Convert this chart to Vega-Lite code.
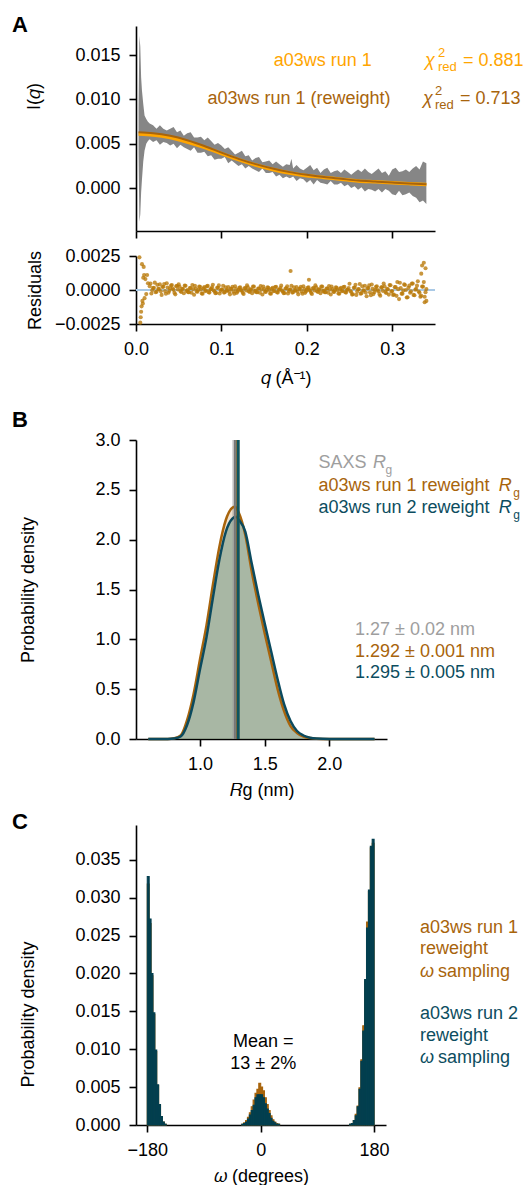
{
"$schema": "https://vega.github.io/schema/vega-lite/v6.json",
"padding": {"left": 12, "top": 14, "right": 0, "bottom": 0},
"config": {
 "font": "Liberation Sans",
 "view": {"stroke": null},
 "axis": {"labelFontSize": 18, "titleFontSize": 18, "titleFontWeight": "normal", "labelColor": "#000", "titleColor": "#000", "domainColor": "#000", "tickColor": "#000", "domainWidth": 1.6, "tickWidth": 1.6, "tickSize": 7, "labelPadding": 9, "titlePadding": 8, "grid": false, "labelFont": "Liberation Sans", "titleFont": "Liberation Sans", "labelOverlap": false, "labelFlush": false},
 "title": {"fontSize": 22, "fontWeight": "bold", "anchor": "start", "frame": "group", "color": "#000", "font": "Liberation Sans", "offset": 0},
 "text": {"fontSize": 18, "font": "Liberation Sans"}
},
"datasets": {
 "saxs": [
  {"x":0.0030,"y":0.0040,"hi":0.0090},{"x":0.0040,"y":-0.0038,"hi":0.0172},{"x":0.0050,"y":-0.0030,"hi":0.0160},{"x":0.0060,"y":-0.0005,"hi":0.0125},{"x":0.0070,"y":0.0010,"hi":0.0110},{"x":0.0085,"y":0.0030,"hi":0.0095},{"x":0.0100,"y":0.0042,"hi":0.0082},{"x":0.0120,"y":0.0050,"hi":0.0078},{"x":0.0140,"y":0.0053,"hi":0.0075},{"x":0.0160,"y":0.0055,"hi":0.0073},
  {"x":0.020,"y":0.0052,"hi":0.0071},{"x":0.024,"y":0.0054,"hi":0.0067},{"x":0.028,"y":0.0049,"hi":0.0071},{"x":0.032,"y":0.0052,"hi":0.0067},{"x":0.036,"y":0.0051,"hi":0.0065},{"x":0.040,"y":0.0048,"hi":0.0067},{"x":0.044,"y":0.0050,"hi":0.0069},{"x":0.048,"y":0.0045,"hi":0.0063},{"x":0.052,"y":0.0049,"hi":0.0065},{"x":0.056,"y":0.0046,"hi":0.0059},
  {"x":0.060,"y":0.0044,"hi":0.0062},{"x":0.064,"y":0.0042,"hi":0.0063},{"x":0.068,"y":0.0046,"hi":0.0057},{"x":0.072,"y":0.0040,"hi":0.0057},{"x":0.076,"y":0.0040,"hi":0.0058},{"x":0.080,"y":0.0041,"hi":0.0054},{"x":0.084,"y":0.0036,"hi":0.0057},{"x":0.088,"y":0.0037,"hi":0.0053},{"x":0.092,"y":0.0032,"hi":0.0049},{"x":0.096,"y":0.0033,"hi":0.0051},
  {"x":0.100,"y":0.0033,"hi":0.0048},{"x":0.104,"y":0.0035,"hi":0.0044},{"x":0.108,"y":0.0028,"hi":0.0046},{"x":0.112,"y":0.0031,"hi":0.0042},{"x":0.116,"y":0.0028,"hi":0.0038},{"x":0.120,"y":0.0025,"hi":0.0040},{"x":0.124,"y":0.0027,"hi":0.0042},{"x":0.128,"y":0.0022,"hi":0.0036},{"x":0.132,"y":0.0025,"hi":0.0037},{"x":0.136,"y":0.0022,"hi":0.0031},
  {"x":0.140,"y":0.0020,"hi":0.0034},{"x":0.144,"y":0.0018,"hi":0.0035},{"x":0.148,"y":0.0022,"hi":0.0029},{"x":0.152,"y":0.0017,"hi":0.0030},{"x":0.156,"y":0.0017,"hi":0.0031},{"x":0.160,"y":0.0018,"hi":0.0027},{"x":0.164,"y":0.0013,"hi":0.0030},{"x":0.168,"y":0.0015,"hi":0.0027},{"x":0.172,"y":0.0011,"hi":0.0024},{"x":0.176,"y":0.0013,"hi":0.0027},
  {"x":0.180,"y":0.0011,"hi":0.0026},{"x":0.182,"y":0.0012,"hi":0.0033},{"x":0.184,"y":0.0013,"hi":0.0022},{"x":0.188,"y":0.0008,"hi":0.0026},{"x":0.192,"y":0.0011,"hi":0.0022},{"x":0.196,"y":0.0010,"hi":0.0020},{"x":0.200,"y":0.0006,"hi":0.0023},{"x":0.204,"y":0.0009,"hi":0.0026},{"x":0.208,"y":0.0004,"hi":0.0020},{"x":0.212,"y":0.0009,"hi":0.0023},
  {"x":0.216,"y":0.0006,"hi":0.0017},{"x":0.220,"y":0.0005,"hi":0.0021},{"x":0.224,"y":0.0004,"hi":0.0023},{"x":0.228,"y":0.0008,"hi":0.0017},{"x":0.232,"y":0.0004,"hi":0.0019},{"x":0.236,"y":0.0004,"hi":0.0020},{"x":0.240,"y":0.0006,"hi":0.0017},{"x":0.244,"y":0.0002,"hi":0.0021},{"x":0.248,"y":0.0004,"hi":0.0018},{"x":0.252,"y":0.0000,"hi":0.0015},
  {"x":0.256,"y":0.0002,"hi":0.0018},{"x":0.260,"y":-0.0002,"hi":0.0021},{"x":0.264,"y":0.0001,"hi":0.0018},{"x":0.268,"y":-0.0004,"hi":0.0022},{"x":0.272,"y":-0.0001,"hi":0.0018},{"x":0.276,"y":-0.0002,"hi":0.0016},{"x":0.280,"y":-0.0004,"hi":0.0019},{"x":0.284,"y":-0.0001,"hi":0.0022},{"x":0.288,"y":-0.0005,"hi":0.0017},{"x":0.292,"y":-0.0001,"hi":0.0019},
  {"x":0.296,"y":-0.0003,"hi":0.0014},{"x":0.300,"y":-0.0007,"hi":0.0021},{"x":0.304,"y":-0.0008,"hi":0.0023},{"x":0.308,"y":-0.0003,"hi":0.0018},{"x":0.312,"y":-0.0008,"hi":0.0019},{"x":0.316,"y":-0.0007,"hi":0.0021},{"x":0.320,"y":-0.0005,"hi":0.0018},{"x":0.324,"y":-0.0009,"hi":0.0022},{"x":0.328,"y":-0.0011,"hi":0.0025},{"x":0.332,"y":-0.0016,"hi":0.0021},
  {"x":0.336,"y":-0.0014,"hi":0.0030},{"x":0.340,"y":-0.0018,"hi":0.0028}
 ],
 "fit": [
  {"x":0.003,"y":0.0061,"s":"run1"},{"x":0.02,"y":0.0060,"s":"run1"},{"x":0.04,"y":0.0057,"s":"run1"},{"x":0.06,"y":0.0052,"s":"run1"},{"x":0.08,"y":0.0046,"s":"run1"},{"x":0.10,"y":0.0039,"s":"run1"},{"x":0.12,"y":0.0032,"s":"run1"},{"x":0.14,"y":0.0026,"s":"run1"},{"x":0.16,"y":0.0021,"s":"run1"},{"x":0.18,"y":0.0017,"s":"run1"},{"x":0.20,"y":0.0014,"s":"run1"},{"x":0.22,"y":0.0012,"s":"run1"},{"x":0.24,"y":0.0010,"s":"run1"},{"x":0.26,"y":0.0008,"s":"run1"},{"x":0.28,"y":0.0007,"s":"run1"},{"x":0.30,"y":0.0006,"s":"run1"},{"x":0.32,"y":0.0005,"s":"run1"},{"x":0.34,"y":0.0004,"s":"run1"},
  {"x":0.003,"y":0.0063,"s":"run1rw"},{"x":0.02,"y":0.0062,"s":"run1rw"},{"x":0.04,"y":0.0059,"s":"run1rw"},{"x":0.06,"y":0.0054,"s":"run1rw"},{"x":0.08,"y":0.00475,"s":"run1rw"},{"x":0.10,"y":0.0040,"s":"run1rw"},{"x":0.12,"y":0.0033,"s":"run1rw"},{"x":0.14,"y":0.0027,"s":"run1rw"},{"x":0.16,"y":0.0022,"s":"run1rw"},{"x":0.18,"y":0.0018,"s":"run1rw"},{"x":0.20,"y":0.0015,"s":"run1rw"},{"x":0.22,"y":0.00125,"s":"run1rw"},{"x":0.24,"y":0.00105,"s":"run1rw"},{"x":0.26,"y":0.00085,"s":"run1rw"},{"x":0.28,"y":0.00073,"s":"run1rw"},{"x":0.30,"y":0.00062,"s":"run1rw"},{"x":0.32,"y":0.00052,"s":"run1rw"},{"x":0.34,"y":0.00043,"s":"run1rw"}
 ],
 "resid": [
  {"x":0.004,"y":0.0024},{"x":0.005,"y":-0.0024},{"x":0.0055,"y":-0.0020},{"x":0.006,"y":-0.0016},{"x":0.0065,"y":-0.0012},{"x":0.007,"y":0.0019},{"x":0.0075,"y":-0.0008},{"x":0.008,"y":-0.0010},{"x":0.0085,"y":0.0009},{"x":0.009,"y":0.0017},{"x":0.0095,"y":0.0011},{"x":0.010,"y":-0.0006},{"x":0.011,"y":0.0008},{"x":0.012,"y":-0.0003},{"x":0.013,"y":0.0011},{"x":0.014,"y":0.0005},
  {"x":0.016,"y":0.00028},{"x":0.018,"y":-0.00026},{"x":0.020,"y":0.00015},{"x":0.022,"y":0.00054},{"x":0.024,"y":-0.00013},{"x":0.026,"y":0.00008},{"x":0.028,"y":0.00041},{"x":0.030,"y":-0.00036},{"x":0.032,"y":0.00024},{"x":0.034,"y":-0.00007},{"x":0.036,"y":0.0005},{"x":0.038,"y":-0.0002},{"x":0.040,"y":0.00012},{"x":0.042,"y":0.00037},{"x":0.044,"y":0.00001},{"x":0.046,"y":-0.00032},{"x":0.048,"y":0.00031},
  {"x":0.050,"y":0.00041},{"x":0.052,"y":-0.00008},{"x":0.054,"y":0.00009},{"x":0.056,"y":-0.00024},{"x":0.058,"y":0.00031},{"x":0.060,"y":-0.00001},{"x":0.062,"y":-0.00016},{"x":0.064,"y":0.00015},{"x":0.066,"y":0.00037},{"x":0.068,"y":-0.00035},{"x":0.070,"y":0.00011},{"x":0.072,"y":-0.00013},{"x":0.074,"y":0.00026},{"x":0.076,"y":0.00003},{"x":0.078,"y":-0.00027},{"x":0.080,"y":0.00021},{"x":0.082,"y":-0.00003},{"x":0.084,"y":0.0003},{"x":0.086,"y":-0.00019},{"x":0.088,"y":0.00008},{"x":0.090,"y":0.00039},{"x":0.092,"y":-0.00009},{"x":0.094,"y":-0.00022},{"x":0.096,"y":0.00017},{"x":0.098,"y":-0.00026},
  {"x":0.100,"y":0.00004},{"x":0.102,"y":0.00031},{"x":0.104,"y":-0.00016},{"x":0.106,"y":-0.00002},{"x":0.108,"y":0.00022},{"x":0.110,"y":-0.00032},{"x":0.112,"y":0.00009},{"x":0.114,"y":-0.00012},{"x":0.116,"y":0.00028},{"x":0.118,"y":-0.00021},{"x":0.120,"y":0.00001},{"x":0.122,"y":0.00019},{"x":0.124,"y":-0.00006},{"x":0.126,"y":-0.00029},{"x":0.128,"y":0.00014},{"x":0.130,"y":0.00034},{"x":0.132,"y":-0.00009},{"x":0.134,"y":0.00005},{"x":0.136,"y":-0.00023},{"x":0.138,"y":0.00025},
  {"x":0.140,"y":-0.00004},{"x":0.142,"y":-0.00017},{"x":0.144,"y":0.00011},{"x":0.146,"y":0.00029},{"x":0.148,"y":-0.00033},{"x":0.150,"y":0.00007},{"x":0.152,"y":-0.00014},{"x":0.154,"y":0.0002},{"x":0.156,"y":0},{"x":0.158,"y":-0.00027},{"x":0.160,"y":0.00016},{"x":0.162,"y":-0.00005},{"x":0.164,"y":0.00023},{"x":0.166,"y":-0.00019},{"x":0.168,"y":0.00004},{"x":0.170,"y":0.00032},{"x":0.172,"y":-0.00011},{"x":0.174,"y":-0.00022},{"x":0.176,"y":0.00012},{"x":0.178,"y":-0.00025},
  {"x":0.180,"y":0.00004},{"x":0.181,"y":0.0014},{"x":0.182,"y":0.00031},{"x":0.184,"y":-0.00016},{"x":0.186,"y":-0.00002},{"x":0.188,"y":0.00022},{"x":0.190,"y":-0.00032},{"x":0.192,"y":0.00009},{"x":0.194,"y":-0.00012},{"x":0.196,"y":0.00028},{"x":0.198,"y":-0.00021},{"x":0.200,"y":0.00001},{"x":0.202,"y":0.00019},{"x":0.2025,"y":0.00075},{"x":0.204,"y":-0.00006},{"x":0.206,"y":-0.00029},{"x":0.208,"y":0.00014},{"x":0.210,"y":0.00034},{"x":0.212,"y":-0.00009},{"x":0.214,"y":0.00005},{"x":0.216,"y":-0.00023},{"x":0.218,"y":0.00025},
  {"x":0.220,"y":-0.00004},{"x":0.222,"y":-0.00017},{"x":0.224,"y":0.00011},{"x":0.226,"y":0.00029},{"x":0.228,"y":-0.00033},{"x":0.230,"y":0.00007},{"x":0.232,"y":-0.00014},{"x":0.234,"y":0.0002},{"x":0.236,"y":0},{"x":0.238,"y":-0.00027},{"x":0.240,"y":0.00016},{"x":0.242,"y":-0.00005},{"x":0.244,"y":0.00023},{"x":0.246,"y":-0.00019},{"x":0.248,"y":0.00004},
  {"x":0.250,"y":0.00046},{"x":0.252,"y":-0.00015},{"x":0.254,"y":-0.00031},{"x":0.256,"y":0.00018},{"x":0.258,"y":-0.00036},{"x":0.260,"y":0.00005},{"x":0.262,"y":0.00044},{"x":0.264,"y":-0.00023},{"x":0.266,"y":-0.00003},{"x":0.268,"y":0.00031},{"x":0.270,"y":-0.00046},{"x":0.272,"y":0.00014},{"x":0.274,"y":-0.00017},{"x":0.276,"y":0.0004},{"x":0.278,"y":-0.0003},{"x":0.280,"y":0.00002},{"x":0.282,"y":0.00027},{"x":0.284,"y":-0.00009},{"x":0.286,"y":-0.00042},{"x":0.288,"y":0.00021},{"x":0.290,"y":0.00048},{"x":0.292,"y":-0.00014},{"x":0.294,"y":0.00008},{"x":0.296,"y":-0.00034},{"x":0.298,"y":0.00035},
  {"x":0.300,"y":-0.00007},{"x":0.302,"y":-0.00034},{"x":0.304,"y":0.00021},{"x":0.306,"y":0.00059},{"x":0.308,"y":-0.00067},{"x":0.310,"y":0.00015},{"x":0.312,"y":-0.00027},{"x":0.314,"y":0.00041},{"x":0.316,"y":0},{"x":0.318,"y":-0.00053},{"x":0.320,"y":0.00032},{"x":0.322,"y":-0.0001},{"x":0.324,"y":0.00047},{"x":0.326,"y":-0.00039},{"x":0.328,"y":0.00008},{"x":0.330,"y":0.00064},{"x":0.332,"y":-0.00021},{"x":0.334,"y":-0.00043},{"x":0.336,"y":0.00025},{"x":0.338,"y":-0.0005},{"x":0.340,"y":0.00007},
  {"x":0.334,"y":0.0012},{"x":0.335,"y":0.0018},{"x":0.337,"y":0.0020},{"x":0.339,"y":0.0016},{"x":0.338,"y":-0.0009},{"x":0.340,"y":-0.0008},
  {"x":0.017,"y":0.00048},{"x":0.019,"y":-0.00001},{"x":0.021,"y":0.00016},{"x":0.023,"y":-0.00017},{"x":0.025,"y":0.00038},{"x":0.027,"y":0.00006},{"x":0.029,"y":-0.00009},{"x":0.031,"y":0.00022},{"x":0.033,"y":0.00044},{"x":0.035,"y":-0.00028},{"x":0.037,"y":0.00018},{"x":0.039,"y":-0.00006},{"x":0.041,"y":0.00033},{"x":0.043,"y":0.0001},{"x":0.045,"y":-0.0002},{"x":0.047,"y":0.00028},{"x":0.049,"y":0.00004},
  {"x":0.051,"y":0.00024},{"x":0.053,"y":-0.00015},{"x":0.055,"y":0.00007},{"x":0.057,"y":0.00032},{"x":0.059,"y":-0.00007},{"x":0.061,"y":-0.00017},{"x":0.063,"y":0.00014},{"x":0.065,"y":-0.0002},{"x":0.067,"y":0.00006},{"x":0.069,"y":0.00031},{"x":0.071,"y":-0.00011},{"x":0.073,"y":0.00001},{"x":0.075,"y":0.00023},{"x":0.077,"y":-0.00026},{"x":0.079,"y":0.00012},{"x":0.081,"y":-0.00008},{"x":0.083,"y":0.00028},{"x":0.085,"y":-0.00016},{"x":0.087,"y":0.00004},{"x":0.089,"y":0.0002},{"x":0.091,"y":-0.00003},{"x":0.093,"y":-0.00024},{"x":0.095,"y":0.00016},{"x":0.097,"y":0.00034},{"x":0.099,"y":-0.00006},
  {"x":0.101,"y":0.00004},{"x":0.103,"y":-0.00019},{"x":0.105,"y":0.0002},{"x":0.107,"y":-0.00003},{"x":0.109,"y":-0.00013},{"x":0.111,"y":0.00008},{"x":0.113,"y":0.00024},{"x":0.115,"y":-0.00027},{"x":0.117,"y":0.00006},{"x":0.119,"y":-0.00011},{"x":0.121,"y":0.00016},{"x":0.123,"y":0},{"x":0.125,"y":-0.00021},{"x":0.127,"y":0.00013},{"x":0.129,"y":-0.00004},{"x":0.131,"y":0.00019},{"x":0.133,"y":-0.00015},{"x":0.135,"y":0.00003},{"x":0.137,"y":0.00025},{"x":0.139,"y":-0.00008},
  {"x":0.141,"y":-0.00017},{"x":0.143,"y":0.0001},{"x":0.145,"y":-0.0002},{"x":0.147,"y":0.00003},{"x":0.149,"y":0.00025},{"x":0.151,"y":-0.00013},{"x":0.153,"y":-0.00001},{"x":0.155,"y":0.00017},{"x":0.157,"y":-0.00025},{"x":0.159,"y":0.00008},{"x":0.161,"y":-0.00009},{"x":0.163,"y":0.00022},{"x":0.165,"y":-0.00017},{"x":0.167,"y":0.00001},{"x":0.169,"y":0.00015},{"x":0.171,"y":-0.00005},{"x":0.173,"y":-0.00024},{"x":0.175,"y":0.00011},{"x":0.177,"y":0.00027},{"x":0.179,"y":-0.00008},
  {"x":0.181,"y":0.00004},{"x":0.183,"y":-0.00019},{"x":0.185,"y":0.0002},{"x":0.187,"y":-0.00003},{"x":0.189,"y":-0.00013},{"x":0.191,"y":0.00008},{"x":0.193,"y":0.00024},{"x":0.195,"y":-0.00027},{"x":0.197,"y":0.00006},{"x":0.199,"y":-0.00011},{"x":0.201,"y":0.00016},{"x":0.203,"y":0},{"x":0.205,"y":-0.00021},{"x":0.207,"y":0.00013},{"x":0.209,"y":-0.00004},{"x":0.211,"y":0.00019},{"x":0.213,"y":-0.00015},{"x":0.215,"y":0.00003},{"x":0.217,"y":0.00025},{"x":0.219,"y":-0.00008},
  {"x":0.221,"y":-0.00017},{"x":0.223,"y":0.0001},{"x":0.225,"y":-0.0002},{"x":0.227,"y":0.00003},{"x":0.229,"y":0.00025},{"x":0.231,"y":-0.00013},{"x":0.233,"y":-0.00001},{"x":0.235,"y":0.00017},{"x":0.237,"y":-0.00025},{"x":0.239,"y":0.00008},{"x":0.241,"y":-0.00009},{"x":0.243,"y":0.00022},{"x":0.245,"y":-0.00017},{"x":0.247,"y":0.00001},{"x":0.249,"y":0.00015},
  {"x":0.251,"y":-0.00007},{"x":0.253,"y":-0.00034},{"x":0.255,"y":0.00016},{"x":0.257,"y":0.00038},{"x":0.259,"y":-0.00011},{"x":0.261,"y":0.00006},{"x":0.263,"y":-0.00027},{"x":0.265,"y":0.00028},{"x":0.267,"y":-0.00004},{"x":0.269,"y":-0.00019},{"x":0.271,"y":0.00012},{"x":0.273,"y":0.00034},{"x":0.275,"y":-0.00038},{"x":0.277,"y":0.00008},{"x":0.279,"y":-0.00016},{"x":0.281,"y":0.00023},{"x":0.283,"y":0},{"x":0.285,"y":-0.0003},{"x":0.287,"y":0.00018},{"x":0.289,"y":-0.00006},{"x":0.291,"y":0.00027},{"x":0.293,"y":-0.00022},{"x":0.295,"y":0.00005},{"x":0.297,"y":0.00036},{"x":0.299,"y":-0.00012},
  {"x":0.301,"y":-0.00037},{"x":0.303,"y":0.00021},{"x":0.305,"y":-0.00043},{"x":0.307,"y":0.00006},{"x":0.309,"y":0.00053},{"x":0.311,"y":-0.00027},{"x":0.313,"y":-0.00003},{"x":0.315,"y":0.00037},{"x":0.317,"y":-0.00055},{"x":0.319,"y":0.00016},{"x":0.321,"y":-0.0002},{"x":0.323,"y":0.00047},{"x":0.325,"y":-0.00036},{"x":0.327,"y":0.00002},{"x":0.329,"y":0.00032},{"x":0.331,"y":-0.00011},{"x":0.333,"y":-0.0005},{"x":0.335,"y":0.00025},{"x":0.337,"y":0.00058},{"x":0.339,"y":-0.00016}
 ],
 "kde": [
  {"x":0.60,"y":0,"s":"run1rw"},{"x":0.75,"y":0.001,"s":"run1rw"},{"x":0.80,"y":0.008,"s":"run1rw"},{"x":0.85,"y":0.035,"s":"run1rw"},{"x":0.90,"y":0.19,"s":"run1rw"},{"x":0.95,"y":0.45,"s":"run1rw"},{"x":1.00,"y":0.80,"s":"run1rw"},{"x":1.05,"y":1.14,"s":"run1rw"},{"x":1.10,"y":1.55,"s":"run1rw"},{"x":1.15,"y":1.93,"s":"run1rw"},{"x":1.20,"y":2.20,"s":"run1rw"},{"x":1.25,"y":2.32,"s":"run1rw"},{"x":1.27,"y":2.33,"s":"run1rw"},{"x":1.30,"y":2.27,"s":"run1rw"},{"x":1.35,"y":2.05,"s":"run1rw"},{"x":1.40,"y":1.68,"s":"run1rw"},{"x":1.45,"y":1.36,"s":"run1rw"},{"x":1.50,"y":1.06,"s":"run1rw"},{"x":1.55,"y":0.78,"s":"run1rw"},{"x":1.60,"y":0.50,"s":"run1rw"},{"x":1.65,"y":0.28,"s":"run1rw"},{"x":1.70,"y":0.13,"s":"run1rw"},{"x":1.75,"y":0.06,"s":"run1rw"},{"x":1.80,"y":0.025,"s":"run1rw"},{"x":1.85,"y":0.009,"s":"run1rw"},{"x":1.90,"y":0.003,"s":"run1rw"},{"x":2.00,"y":0,"s":"run1rw"},{"x":2.35,"y":0,"s":"run1rw"},
  {"x":0.60,"y":0,"s":"run2rw"},{"x":0.75,"y":0.001,"s":"run2rw"},{"x":0.80,"y":0.006,"s":"run2rw"},{"x":0.85,"y":0.025,"s":"run2rw"},{"x":0.90,"y":0.14,"s":"run2rw"},{"x":0.95,"y":0.37,"s":"run2rw"},{"x":1.00,"y":0.70,"s":"run2rw"},{"x":1.05,"y":1.02,"s":"run2rw"},{"x":1.10,"y":1.42,"s":"run2rw"},{"x":1.15,"y":1.80,"s":"run2rw"},{"x":1.20,"y":2.08,"s":"run2rw"},{"x":1.25,"y":2.21,"s":"run2rw"},{"x":1.28,"y":2.23,"s":"run2rw"},{"x":1.30,"y":2.20,"s":"run2rw"},{"x":1.35,"y":2.08,"s":"run2rw"},{"x":1.40,"y":1.76,"s":"run2rw"},{"x":1.45,"y":1.45,"s":"run2rw"},{"x":1.50,"y":1.16,"s":"run2rw"},{"x":1.55,"y":0.88,"s":"run2rw"},{"x":1.60,"y":0.60,"s":"run2rw"},{"x":1.65,"y":0.35,"s":"run2rw"},{"x":1.70,"y":0.18,"s":"run2rw"},{"x":1.75,"y":0.08,"s":"run2rw"},{"x":1.80,"y":0.035,"s":"run2rw"},{"x":1.85,"y":0.013,"s":"run2rw"},{"x":1.90,"y":0.004,"s":"run2rw"},{"x":2.00,"y":0,"s":"run2rw"},{"x":2.35,"y":0,"s":"run2rw"}
 ],
 "rg": [
  {"x":1.27,"y":0,"y2":3,"s":"saxs"},{"x":1.292,"y":0,"y2":3,"s":"run1rw"},{"x":1.295,"y":0,"y2":3,"s":"run2rw"}
 ],
 "rgband": [{"x":1.25,"x2":1.29,"y":0,"y2":3}],
 "hist": [
  {"x":-180,"x2":-177,"y":0.0318,"s":"run1rw"},{"x":-177,"x2":-174,"y":0.0266,"s":"run1rw"},{"x":-174,"x2":-171,"y":0.0197,"s":"run1rw"},{"x":-171,"x2":-168,"y":0.0146,"s":"run1rw"},{"x":-168,"x2":-165,"y":0.0097,"s":"run1rw"},{"x":-165,"x2":-162,"y":0.0052,"s":"run1rw"},{"x":-162,"x2":-159,"y":0.0026,"s":"run1rw"},{"x":-159,"x2":-156,"y":0.0011,"s":"run1rw"},{"x":-156,"x2":-153,"y":0.0004,"s":"run1rw"},{"x":-153,"x2":-150,"y":0.0001,"s":"run1rw"},
  {"x":-30,"x2":-27,"y":0.0001,"s":"run1rw"},{"x":-27,"x2":-24,"y":0.0003,"s":"run1rw"},{"x":-24,"x2":-21,"y":0.0006,"s":"run1rw"},{"x":-21,"x2":-18,"y":0.0010,"s":"run1rw"},{"x":-18,"x2":-15,"y":0.0016,"s":"run1rw"},{"x":-15,"x2":-12,"y":0.0024,"s":"run1rw"},{"x":-12,"x2":-9,"y":0.0033,"s":"run1rw"},{"x":-9,"x2":-6,"y":0.0042,"s":"run1rw"},{"x":-6,"x2":-3,"y":0.0047,"s":"run1rw"},{"x":-3,"x2":0,"y":0.0055,"s":"run1rw"},{"x":0,"x2":3,"y":0.0050,"s":"run1rw"},{"x":3,"x2":6,"y":0.0045,"s":"run1rw"},{"x":6,"x2":9,"y":0.0036,"s":"run1rw"},{"x":9,"x2":12,"y":0.0027,"s":"run1rw"},{"x":12,"x2":15,"y":0.0019,"s":"run1rw"},{"x":15,"x2":18,"y":0.0012,"s":"run1rw"},{"x":18,"x2":21,"y":0.0007,"s":"run1rw"},{"x":21,"x2":24,"y":0.0004,"s":"run1rw"},{"x":24,"x2":27,"y":0.0002,"s":"run1rw"},{"x":27,"x2":30,"y":0.0001,"s":"run1rw"},
  {"x":141,"x2":144,"y":0.0001,"s":"run1rw"},{"x":144,"x2":147,"y":0.0002,"s":"run1rw"},{"x":147,"x2":150,"y":0.0006,"s":"run1rw"},{"x":150,"x2":153,"y":0.0014,"s":"run1rw"},{"x":153,"x2":156,"y":0.0025,"s":"run1rw"},{"x":156,"x2":159,"y":0.0049,"s":"run1rw"},{"x":159,"x2":162,"y":0.0086,"s":"run1rw"},{"x":162,"x2":165,"y":0.0131,"s":"run1rw"},{"x":165,"x2":168,"y":0.0190,"s":"run1rw"},{"x":168,"x2":171,"y":0.0268,"s":"run1rw"},{"x":171,"x2":174,"y":0.0308,"s":"run1rw"},{"x":174,"x2":177,"y":0.0366,"s":"run1rw"},{"x":177,"x2":180,"y":0.0372,"s":"run1rw"},
  {"x":-180,"x2":-177,"y":0.0328,"s":"run2rw"},{"x":-177,"x2":-174,"y":0.0272,"s":"run2rw"},{"x":-174,"x2":-171,"y":0.0200,"s":"run2rw"},{"x":-171,"x2":-168,"y":0.0148,"s":"run2rw"},{"x":-168,"x2":-165,"y":0.0099,"s":"run2rw"},{"x":-165,"x2":-162,"y":0.0053,"s":"run2rw"},{"x":-162,"x2":-159,"y":0.0027,"s":"run2rw"},{"x":-159,"x2":-156,"y":0.0011,"s":"run2rw"},{"x":-156,"x2":-153,"y":0.0004,"s":"run2rw"},{"x":-153,"x2":-150,"y":0.0001,"s":"run2rw"},
  {"x":-30,"x2":-27,"y":0.0001,"s":"run2rw"},{"x":-27,"x2":-24,"y":0.0002,"s":"run2rw"},{"x":-24,"x2":-21,"y":0.0004,"s":"run2rw"},{"x":-21,"x2":-18,"y":0.0008,"s":"run2rw"},{"x":-18,"x2":-15,"y":0.0013,"s":"run2rw"},{"x":-15,"x2":-12,"y":0.0019,"s":"run2rw"},{"x":-12,"x2":-9,"y":0.0026,"s":"run2rw"},{"x":-9,"x2":-6,"y":0.0036,"s":"run2rw"},{"x":-6,"x2":-3,"y":0.0040,"s":"run2rw"},{"x":-3,"x2":0,"y":0.0040,"s":"run2rw"},{"x":0,"x2":3,"y":0.0040,"s":"run2rw"},{"x":3,"x2":6,"y":0.0036,"s":"run2rw"},{"x":6,"x2":9,"y":0.0028,"s":"run2rw"},{"x":9,"x2":12,"y":0.0021,"s":"run2rw"},{"x":12,"x2":15,"y":0.0015,"s":"run2rw"},{"x":15,"x2":18,"y":0.0009,"s":"run2rw"},{"x":18,"x2":21,"y":0.0005,"s":"run2rw"},{"x":21,"x2":24,"y":0.0003,"s":"run2rw"},{"x":24,"x2":27,"y":0.0001,"s":"run2rw"},{"x":27,"x2":30,"y":0.0001,"s":"run2rw"},
  {"x":141,"x2":144,"y":0.0001,"s":"run2rw"},{"x":144,"x2":147,"y":0.0002,"s":"run2rw"},{"x":147,"x2":150,"y":0.0006,"s":"run2rw"},{"x":150,"x2":153,"y":0.0012,"s":"run2rw"},{"x":153,"x2":156,"y":0.0024,"s":"run2rw"},{"x":156,"x2":159,"y":0.0047,"s":"run2rw"},{"x":159,"x2":162,"y":0.0084,"s":"run2rw"},{"x":162,"x2":165,"y":0.0124,"s":"run2rw"},{"x":165,"x2":168,"y":0.0192,"s":"run2rw"},{"x":168,"x2":171,"y":0.0260,"s":"run2rw"},{"x":171,"x2":174,"y":0.0310,"s":"run2rw"},{"x":174,"x2":177,"y":0.0368,"s":"run2rw"},{"x":177,"x2":180,"y":0.0377,"s":"run2rw"}
 ]
},
"spacing": 22,
"bounds": "full",
"vconcat": [
 {
  "spacing": 25,
  "bounds": "flush",
  "vconcat": [
   {
    "width": 299, "height": 205,
    "title": {"text": "A", "dx": -124, "dy": 15},
    "encoding": {
     "x": {"field": "x", "type": "quantitative", "scale": {"domain": [0, 0.3501], "nice": false, "zero": false}, "axis": {"values": [0, 0.1, 0.2, 0.3], "labels": false, "title": null}},
     "y": {"field": "y", "type": "quantitative", "scale": {"domain": [-0.00485, 0.0183], "nice": false, "zero": false}, "axis": {"values": [0, 0.005, 0.01, 0.015], "format": ".3f", "title": "I(𝑞)", "titleX": -97, "titleY": 70, "titleBaseline": "alphabetic"}}
    },
    "layer": [
     {"data": {"name": "saxs"}, "mark": {"type": "area", "color": "#868686"}, "encoding": {"y2": {"field": "hi"}}},
     {"data": {"name": "fit"}, "transform": [{"filter": "datum.s == 'run1'"}], "mark": {"type": "line", "color": "#ffa500", "strokeWidth": 3.5, "interpolate": "monotone"}},
     {"data": {"name": "fit"}, "transform": [{"filter": "datum.s == 'run1rw'"}], "mark": {"type": "line", "color": "#a8640c", "strokeWidth": 2, "interpolate": "monotone"}},
     {"data": {"values": [{"x": 0.2187, "y": 0.01437, "t": "a03ws run 1", "s": "run1"}, {"x": 0.1909, "y": 0.01002, "t": "a03ws run 1 (reweight)", "s": "run1rw"}]},
      "mark": {"type": "text", "align": "center", "baseline": "middle"},
      "encoding": {"text": {"field": "t"}, "color": {"field": "s", "type": "nominal", "scale": {"domain": ["run1","run1rw","run2rw","saxs","black"], "range": ["#ffa500","#a8640c","#0c4d60","#9e9e9e","#000000"]}, "legend": null}}},
     {"data": {"values": [{"x": 0.3384, "y": 0.01437, "t": "χ", "s": "run1"}, {"x": 0.336, "y": 0.01002, "t": "χ", "s": "run1rw"}]},
      "mark": {"type": "text", "align": "left", "baseline": "middle", "fontStyle": "italic"},
      "encoding": {"text": {"field": "t"}, "color": {"field": "s", "type": "nominal", "scale": {"domain": ["run1","run1rw","run2rw","saxs","black"], "range": ["#ffa500","#a8640c","#0c4d60","#9e9e9e","#000000"]}, "legend": null}}},
     {"data": {"values": [{"x": 0.3536, "y": 0.01437, "t": "2", "s": "run1"}, {"x": 0.3501, "y": 0.01002, "t": "2", "s": "run1rw"}]},
      "mark": {"type": "text", "align": "left", "baseline": "middle", "fontSize": 13, "dy": -8},
      "encoding": {"text": {"field": "t"}, "color": {"field": "s", "type": "nominal", "scale": {"domain": ["run1","run1rw","run2rw","saxs","black"], "range": ["#ffa500","#a8640c","#0c4d60","#9e9e9e","#000000"]}, "legend": null}}},
     {"data": {"values": [{"x": 0.3536, "y": 0.01437, "t": "red", "s": "run1"}, {"x": 0.3501, "y": 0.01002, "t": "red", "s": "run1rw"}]},
      "mark": {"type": "text", "align": "left", "baseline": "middle", "fontSize": 13, "dy": 6},
      "encoding": {"text": {"field": "t"}, "color": {"field": "s", "type": "nominal", "scale": {"domain": ["run1","run1rw","run2rw","saxs","black"], "range": ["#ffa500","#a8640c","#0c4d60","#9e9e9e","#000000"]}, "legend": null}}},
     {"data": {"values": [{"x": 0.3829, "y": 0.01437, "t": "= 0.881", "s": "run1"}, {"x": 0.3794, "y": 0.01002, "t": "= 0.713", "s": "run1rw"}]},
      "mark": {"type": "text", "align": "left", "baseline": "middle"},
      "encoding": {"text": {"field": "t"}, "color": {"field": "s", "type": "nominal", "scale": {"domain": ["run1","run1rw","run2rw","saxs","black"], "range": ["#ffa500","#a8640c","#0c4d60","#9e9e9e","#000000"]}, "legend": null}}}
    ]
   },
   {
    "width": 299, "height": 68,
    "encoding": {
     "x": {"field": "x", "type": "quantitative", "scale": {"domain": [0, 0.3501], "nice": false, "zero": false}, "axis": {"values": [0, 0.1, 0.2, 0.3], "format": ".1f", "title": "𝑞 (Å⁻¹)", "titlePadding": 11}},
     "y": {"field": "y", "type": "quantitative", "scale": {"domain": [-0.0025, 0.0025], "nice": false, "zero": false}, "axis": {"values": [-0.0025, 0, 0.0025], "format": ".4f", "title": "Residuals", "titleX": -96, "titleBaseline": "alphabetic"}}
    },
    "layer": [
     {"data": {"values": [{"x": 0, "x2": 0.3501, "y": 0}]}, "mark": {"type": "rule", "color": "#a9c9e6", "strokeWidth": 2}, "encoding": {"x2": {"field": "x2"}}},
     {"data": {"name": "resid"}, "mark": {"type": "point", "shape": "circle", "filled": true, "size": 17, "color": "#b87808", "opacity": 0.78}}
    ]
   }
  ]
 },
 {
  "spacing": 86,
  "bounds": "flush",
  "vconcat": [
   {
    "width": 251, "height": 299,
    "title": {"text": "B", "dx": -124, "dy": 5},
    "encoding": {
     "x": {"field": "x", "type": "quantitative", "scale": {"domain": [0.505, 2.446], "nice": false, "zero": false}, "axis": {"values": [1, 1.5, 2], "format": ".1f", "title": "𝑅g (nm)"}},
     "y": {"field": "y", "type": "quantitative", "scale": {"domain": [0, 3], "nice": false, "zero": false}, "axis": {"values": [0, 0.5, 1, 1.5, 2, 2.5, 3], "format": ".1f", "title": "Probability density", "titleX": -103, "titleBaseline": "alphabetic"}}
    },
    "layer": [
     {"data": {"name": "kde"}, "transform": [{"filter": "datum.s == 'run1rw'"}], "mark": {"type": "area", "color": "#b06a10", "opacity": 0.2, "interpolate": "monotone"}},
     {"data": {"name": "kde"}, "transform": [{"filter": "datum.s == 'run2rw'"}], "mark": {"type": "area", "color": "#51866f", "opacity": 0.45, "interpolate": "monotone"}},
     {"data": {"name": "rgband"}, "mark": {"type": "rect", "color": "#9a9a9a", "opacity": 0.55}, "encoding": {"x2": {"field": "x2"}, "y2": {"field": "y2"}}},
     {"data": {"name": "kde"}, "transform": [{"filter": "datum.s == 'run1rw'"}], "mark": {"type": "line", "color": "#a8640c", "strokeWidth": 2.5, "interpolate": "monotone"}},
     {"data": {"name": "kde"}, "transform": [{"filter": "datum.s == 'run2rw'"}], "mark": {"type": "line", "color": "#0b4a5e", "strokeWidth": 2.5, "interpolate": "monotone"}},
     {"data": {"name": "rg"}, "transform": [{"filter": "datum.s == 'saxs'"}], "mark": {"type": "rule", "color": "#777777", "strokeWidth": 2}, "encoding": {"y2": {"field": "y2"}}},
     {"data": {"name": "rg"}, "transform": [{"filter": "datum.s == 'run1rw'"}], "mark": {"type": "rule", "color": "#a8640c", "strokeWidth": 3}, "encoding": {"y2": {"field": "y2"}}},
     {"data": {"name": "rg"}, "transform": [{"filter": "datum.s == 'run2rw'"}], "mark": {"type": "rule", "color": "#0d5560", "strokeWidth": 3}, "encoding": {"y2": {"field": "y2"}}},
     {"data": {"values": [
        {"x": 1.916, "y": 2.767, "t": "SAXS", "s": "saxs"},
        {"x": 1.916, "y": 2.537, "t": "a03ws run 1 reweight", "s": "run1rw"},
        {"x": 1.916, "y": 2.319, "t": "a03ws run 2 reweight", "s": "run2rw"},
        {"x": 2.199, "y": 1.09, "t": "1.27 ± 0.02 nm", "s": "saxs"},
        {"x": 2.199, "y": 0.876, "t": "1.292 ± 0.001 nm", "s": "run1rw"},
        {"x": 2.199, "y": 0.66, "t": "1.295 ± 0.005 nm", "s": "run2rw"}]},
      "mark": {"type": "text", "align": "left", "baseline": "middle"},
      "encoding": {"text": {"field": "t"}, "color": {"field": "s", "type": "nominal", "scale": {"domain": ["run1","run1rw","run2rw","saxs","black"], "range": ["#ffa500","#a8640c","#0c4d60","#9e9e9e","#000000"]}, "legend": null}}},
     {"data": {"values": [
        {"x": 2.337, "y": 2.767, "t": "R", "s": "saxs"},
        {"x": 3.311, "y": 2.537, "t": "R", "s": "run1rw"},
        {"x": 3.311, "y": 2.319, "t": "R", "s": "run2rw"}]},
      "mark": {"type": "text", "align": "left", "baseline": "middle", "fontStyle": "italic"},
      "encoding": {"text": {"field": "t"}, "color": {"field": "s", "type": "nominal", "scale": {"domain": ["run1","run1rw","run2rw","saxs","black"], "range": ["#ffa500","#a8640c","#0c4d60","#9e9e9e","#000000"]}, "legend": null}}},
     {"data": {"values": [
        {"x": 2.435, "y": 2.767, "t": "g", "s": "saxs"},
        {"x": 3.423, "y": 2.537, "t": "g", "s": "run1rw"},
        {"x": 3.423, "y": 2.319, "t": "g", "s": "run2rw"}]},
      "mark": {"type": "text", "align": "left", "baseline": "middle", "fontSize": 12, "dy": 7},
      "encoding": {"text": {"field": "t"}, "color": {"field": "s", "type": "nominal", "scale": {"domain": ["run1","run1rw","run2rw","saxs","black"], "range": ["#ffa500","#a8640c","#0c4d60","#9e9e9e","#000000"]}, "legend": null}}}
    ]
   },
   {
    "width": 250, "height": 300,
    "title": {"text": "C", "dx": -124, "dy": 13},
    "encoding": {
     "x": {"field": "x", "type": "quantitative", "scale": {"domain": [-197.9, 198.9], "nice": false, "zero": false}, "axis": {"values": [-180, 0, 180], "format": "d", "title": "𝜔 (degrees)"}},
     "y": {"field": "y", "type": "quantitative", "scale": {"domain": [0, 0.0396], "nice": false, "zero": false}, "axis": {"values": [0, 0.005, 0.01, 0.015, 0.02, 0.025, 0.03, 0.035], "format": ".3f", "title": "Probability density", "titleX": -103, "titleY": 189, "titleBaseline": "alphabetic"}}
    },
    "layer": [
     {"data": {"name": "hist"}, "transform": [{"filter": "datum.s == 'run1rw'"}], "mark": {"type": "rect", "color": "#a8640c", "stroke": "#a8640c", "strokeWidth": 1.1}, "encoding": {"x2": {"field": "x2"}, "y2": {"datum": 0}}},
     {"data": {"name": "hist"}, "transform": [{"filter": "datum.s == 'run2rw'"}], "mark": {"type": "rect", "color": "#033f4f", "stroke": "#033f4f", "strokeWidth": 1.1}, "encoding": {"x2": {"field": "x2"}, "y2": {"datum": 0}}},
     {"data": {"values": [{"x": 4, "y": 0.01101, "t": "Mean =", "s": "black"}, {"x": 4, "y": 0.00799, "t": "13 ± 2%", "s": "black"}]},
      "mark": {"type": "text", "align": "center", "baseline": "middle"},
      "encoding": {"text": {"field": "t"}, "color": {"field": "s", "type": "nominal", "scale": {"domain": ["run1","run1rw","run2rw","saxs","black"], "range": ["#ffa500","#a8640c","#0c4d60","#9e9e9e","#000000"]}, "legend": null}}},
     {"data": {"values": [
        {"x": 252.9, "y": 0.02598, "t": "a03ws run 1", "s": "run1rw"},
        {"x": 252.9, "y": 0.02318, "t": "reweight", "s": "run1rw"},
        {"x": 281.5, "y": 0.0202, "t": "sampling", "s": "run1rw"},
        {"x": 252.9, "y": 0.01465, "t": "a03ws run 2", "s": "run2rw"},
        {"x": 252.9, "y": 0.01177, "t": "reweight", "s": "run2rw"},
        {"x": 281.5, "y": 0.00879, "t": "sampling", "s": "run2rw"}]},
      "mark": {"type": "text", "align": "left", "baseline": "middle"},
      "encoding": {"text": {"field": "t"}, "color": {"field": "s", "type": "nominal", "scale": {"domain": ["run1","run1rw","run2rw","saxs","black"], "range": ["#ffa500","#a8640c","#0c4d60","#9e9e9e","#000000"]}, "legend": null}}},
     {"data": {"values": [
        {"x": 252.9, "y": 0.0202, "t": "ω", "s": "run1rw"},
        {"x": 252.9, "y": 0.00879, "t": "ω", "s": "run2rw"}]},
      "mark": {"type": "text", "align": "left", "baseline": "middle", "fontStyle": "italic"},
      "encoding": {"text": {"field": "t"}, "color": {"field": "s", "type": "nominal", "scale": {"domain": ["run1","run1rw","run2rw","saxs","black"], "range": ["#ffa500","#a8640c","#0c4d60","#9e9e9e","#000000"]}, "legend": null}}}
    ]
   }
  ]
 }
]
}
